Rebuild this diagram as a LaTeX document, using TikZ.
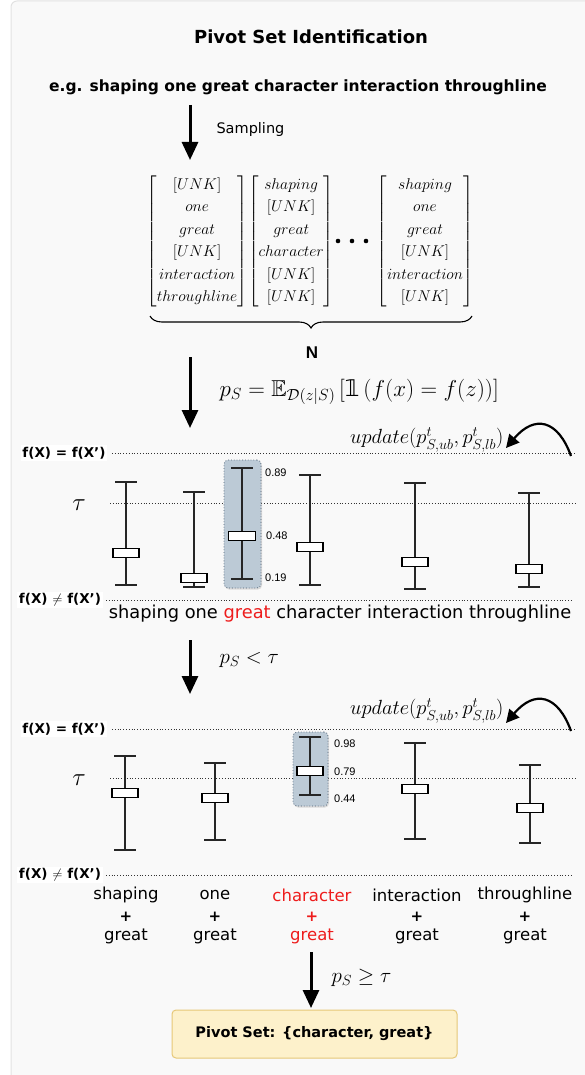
\RequirePackage{fix-cm}
\documentclass[tikz,border=0pt]{standalone}
\usepackage{amsmath,amssymb}
\usepackage[no-math]{fontspec}
\setmainfont{DejaVu Sans}
\newfontfamily\arialf{Liberation Sans}
\newfontfamily\djv{DejaVu Sans}
\usetikzlibrary{arrows.meta,decorations.pathreplacing,shadows}
\definecolor{panelbg}{HTML}{F9F9F9}
\definecolor{panelbd}{HTML}{E2E2E2}
\definecolor{hlfill}{HTML}{BCCAD6}
\definecolor{hlbd}{HTML}{4F6275}
\definecolor{pivfill}{HTML}{FDF1CB}
\definecolor{pivbd}{HTML}{E6C878}
\definecolor{wred}{HTML}{EE1C1C}
\newcommand\indic{\text{\djv 𝟙}}
\newcommand\apo{{\char"27}}
\newcommand\bxp[6]{%
  \coordinate (#1t) at (#2,#3);
  \coordinate (#1b) at (#2,#5);
  \draw[whisk] (#1t) -- (#1b);
  \draw[whisk] ([xshift=-11pt]#1t) -- ([xshift=11pt]#1t);
  \draw[whisk] ([xshift=-11pt]#1b) -- ([xshift=11pt]#1b);
  \node[bx,minimum width=#6pt] (#1m) at (#2,#4) {};
}
\begin{document}
\begin{tikzpicture}[x=1pt,y=-1pt,
  bigarrow/.style={line width=3pt,-{Triangle[length=18pt,width=16pt]}},
  curvarrow/.style={line width=2.2pt,-{Triangle[length=13pt,width=13pt]}},
  dline/.style={dotted,line width=0.8pt,black!80},
  whisk/.style={line width=1.3pt,black!85},
  bx/.style={draw=black,line width=1.3pt,fill=white,minimum height=8.5pt,inner sep=0pt},
  hl/.style={fill=hlfill,draw=hlbd,dotted,line width=0.8pt,rounded corners=4pt,drop shadow={opacity=0.25,shadow xshift=1pt,shadow yshift=-1.5pt}},
  flab/.style={fill=white,inner sep=1.5pt,font=\fontsize{13.5}{15}\selectfont\bfseries},
  num/.style={font=\arialf\fontsize{11}{12}\selectfont,anchor=west,inner sep=0pt},
  word/.style={font=\fontsize{16.5}{19}\selectfont,inner sep=0pt},
  mat/.style={inner sep=0pt,font=\fontsize{15.6}{22.4}\selectfont},
  mathlab/.style={font=\fontsize{21}{24}\selectfont}
]
\useasboundingbox (0,0) rectangle (585,1075);
\draw[fill=panelbg,draw=panelbd,line width=1pt,rounded corners=6pt] (11,1) rectangle (600,1090);

% title
\node[font=\fontsize{18}{22}\selectfont\bfseries] (title) at (311,37) {Pivot Set Identification};
\node[font=\fontsize{15.5}{19}\selectfont\bfseries] (eg) at (298,87) {e.g. shaping one great character interaction throughline};

% sampling arrow
\coordinate (a1s) at (190,105);
\coordinate (a1e) at (190,160);
\draw[bigarrow] (a1s) -- (a1e);
\node[font=\fontsize{14.5}{18}\selectfont,anchor=west] (samp) at (213,130) {Sampling};

% matrices
\begingroup
\setlength{\arraycolsep}{1.2pt}
\node[mat,anchor=east] (m1) at (248,241) {$\begin{bmatrix}[UNK]\\ one\\ great\\ [UNK]\\ interaction\\ throughline\end{bmatrix}$};
\node[mat,anchor=west] (m2) at (248,241) {$\begin{bmatrix}shaping\\ [UNK]\\ great\\ character\\ [UNK]\\ [UNK]\end{bmatrix}$};
\node[mat] (m3) at (425,241) {$\begin{bmatrix}shaping\\ one\\ great\\ [UNK]\\ interaction\\ [UNK]\end{bmatrix}$};
\endgroup
\foreach \i/\xx in {1/338,2/352,3/366}{\fill (\xx,241) circle (2.3pt);}

% brace
\coordinate (brl) at (150,316);
\coordinate (brr) at (472,316);
\draw[line width=1.1pt,decorate,decoration={brace,amplitude=12pt,mirror}] (brl) -- (brr);
\node[font=\arialf\fontsize{17}{18}\selectfont\bfseries] (N) at (312,353) {N};

% arrow 2 + formula
\coordinate (a2s) at (190,357);
\coordinate (a2e) at (190,428);
\draw[bigarrow] (a2s) -- (a2e);
\node[mathlab,font=\fontsize{23}{26}\selectfont,anchor=west] (form) at (216,392) {$p_S=\mathbb{E}_{\mathcal{D}(z|S)}\left[\indic\left(f(x)=f(z)\right)\right]$};

% panel 1
\node[mathlab,font=\fontsize{20.5}{22}\selectfont,anchor=east] (up1) at (507,440) {$update(p^{t}_{S,ub},p^{t}_{S,lb})$};
\coordinate (u1s) at (571,456);
\coordinate (u1e) at (506,448);
\draw[curvarrow] (u1s) .. controls (558,420) and (535,414) .. (u1e);
\draw[dline] (112,453) -- (575,453);
\node[flab] (eq1) at (64,453) {f(X) = f(X\apo)};
\node[font=\fontsize{25}{26}\selectfont] (tau1) at (79,505) {$\tau$};
\draw[dline] (110,503) -- (575,503);
\node[hl,minimum width=37pt,minimum height=128pt] (hl1) at (242.5,524) {};
\bxp{p1a}{126}{482}{553}{585}{26}
\bxp{p1b}{194}{492}{578}{587}{26}
\bxp{p1c}{242}{468}{536}{579}{27}
\bxp{p1d}{310}{475}{547}{585}{26}
\bxp{p1e}{415}{483}{562}{589}{26}
\bxp{p1f}{529}{493}{569}{587}{26}
\node[num] (n189) at (265,473) {0.89};
\node[num] (n148) at (266,536) {0.48};
\node[num] (n119) at (265,578) {0.19};
\draw[dline] (106,600) -- (572,600);
\node[flab] (ne1) at (60,600) {f(X) $\neq$ f(X\apo)};
\node[word,font=\fontsize{17.8}{20}\selectfont] (w1) at (340,614) {shaping one \textcolor{wred}{great} character interaction throughline};

% arrow 3
\coordinate (a3s) at (190,640);
\coordinate (a3e) at (190,694);
\draw[bigarrow] (a3s) -- (a3e);
\node[mathlab,anchor=west] (lt) at (216,660) {$p_S<\tau$};

% panel 2
\node[mathlab,font=\fontsize{20.5}{22}\selectfont,anchor=east] (up2) at (507,711) {$update(p^{t}_{S,ub},p^{t}_{S,lb})$};
\coordinate (u2s) at (571,731);
\coordinate (u2e) at (506,723);
\draw[curvarrow] (u2s) .. controls (558,695) and (535,689) .. (u2e);
\draw[dline] (112,729) -- (575,729);
\node[flab] (eq2) at (64,729) {f(X) = f(X\apo)};
\node[font=\fontsize{25}{26}\selectfont] (tau2) at (79,780) {$\tau$};
\draw[dline] (110,778) -- (575,778);
\node[hl,minimum width=35pt,minimum height=74pt] (hl2) at (310.5,769) {};
\bxp{p2a}{125}{756}{793}{850}{26}
\bxp{p2b}{215}{763}{798}{840}{26}
\bxp{p2c}{310}{737}{771}{795}{26}
\bxp{p2d}{415}{743}{789}{839}{26}
\bxp{p2e}{530}{765}{808}{843}{26}
\node[num] (n298) at (334,744) {0.98};
\node[num] (n279) at (334,772) {0.79};
\node[num] (n244) at (334,799) {0.44};
\draw[dline] (106,875) -- (572,875);
\node[flab] (ne2) at (60,875) {f(X) $\neq$ f(X\apo)};

\foreach \nm/\xx/\ww/\cc in {sh/126/shaping/black,on/215/one/black,ch/312/character/wred,in/417/interaction/black,th/525/throughline/black}{
  \node[word,text=\cc] (b\nm) at (\xx,895) {\ww};
  \node[word,text=\cc,font=\fontsize{15}{18}\selectfont\bfseries] (p\nm) at (\xx,917) {+};
  \node[word,text=\cc] (g\nm) at (\xx,936) {great};
}

% arrow 4
\coordinate (a4s) at (311,952);
\coordinate (a4e) at (311,1008);
\draw[bigarrow] (a4s) -- (a4e);
\node[mathlab,anchor=west] (ge) at (328,978) {$p_S\geq\tau$};

\node[fill=pivfill,draw=pivbd,line width=1pt,rounded corners=4pt,minimum width=285pt,minimum height=48pt,font=\fontsize{14.5}{17}\selectfont\bfseries] (piv) at (314.5,1034) {Pivot Set: \{character, great\}};
\end{tikzpicture}
\end{document}
